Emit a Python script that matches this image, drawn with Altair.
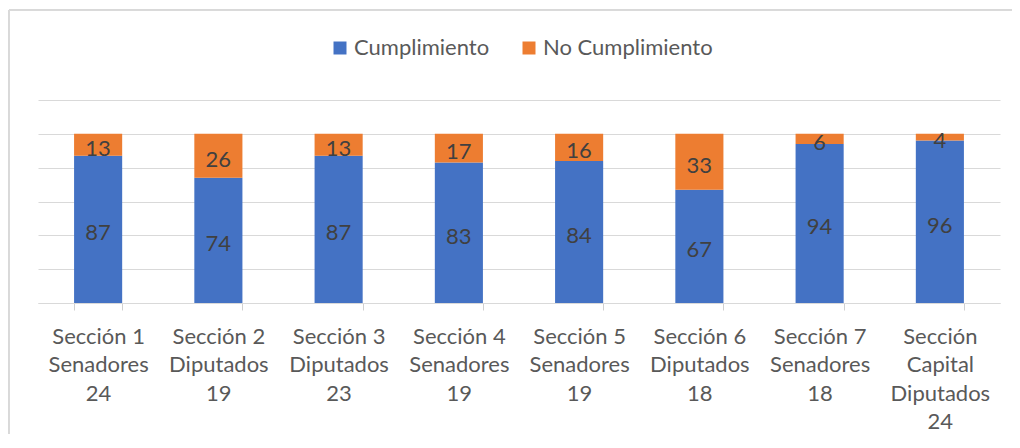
import altair as alt
import pandas as pd

categories = [
    "Sección 1|Senadores|24",
    "Sección 2|Diputados|19",
    "Sección 3|Diputados|23",
    "Sección 4|Senadores|19",
    "Sección 5|Senadores|19",
    "Sección 6|Diputados|18",
    "Sección 7|Senadores|18",
    "Sección|Capital|Diputados|24",
]
series = ["Cumplimiento", "No Cumplimiento"]
cumplimiento = [87, 74, 87, 83, 84, 67, 94, 96]
no_cumplimiento = [13, 26, 13, 17, 16, 33, 6, 4]
colors = ["#4472C4", "#ED7D31"]

rows = []
for c, a, b in zip(categories, cumplimiento, no_cumplimiento):
    rows.append({"cat": c, "serie": series[0], "val": a, "ord": 0})
    rows.append({"cat": c, "serie": series[1], "val": b, "ord": 1})
df = pd.DataFrame(rows)

FONT = "Lato"

xenc = alt.X(
    "cat:N",
    sort=categories,
    title=None,
    scale=alt.Scale(paddingInner=0.6, paddingOuter=0.3),
    axis=alt.Axis(
        labelExpr="split(datum.label, '|')",
        labelAngle=0,
        labelFont=FONT,
        labelFontSize=22,
        labelColor="#595959",
        labelLineHeight=28.5,
        labelBaseline="top",
        labelPadding=16,
        domainColor="#D9D9D9",
        tickColor="#D0D0D0",
        tickSize=7,
        tickWidth=1,
        tickBand="extent",
        grid=False,
    ),
)

yscale = alt.Scale(domain=[0, 120], nice=False)
yaxis = alt.Axis(
    values=[0, 20, 40, 60, 80, 100, 120],
    labels=False,
    ticks=False,
    domain=False,
    grid=True,
    gridColor="#D9D9D9",
    gridWidth=1,
    title=None,
)

base = alt.Chart(df)

bars = base.mark_bar().encode(
    x=xenc,
    y=alt.Y("val:Q", stack="zero", title=None, scale=yscale, axis=yaxis),
    color=alt.Color(
        "serie:N",
        scale=alt.Scale(domain=series, range=colors),
        legend=alt.Legend(
            title=None,
            orient="none",
            legendX=291,
            legendY=-63,
            direction="horizontal",
            symbolType="square",
            symbolSize=169,
            symbolStrokeWidth=0,
            labelFont=FONT,
            labelFontSize=22,
            labelColor="#595959",
            labelOffset=3,
            labelLimit=400,
            columnPadding=28,
            padding=0,
        ),
    ),
    order=alt.Order("ord:Q"),
)

labels = (
    base.transform_stack(
        stack="val", groupby=["cat"], as_=["y0", "y1"], sort=[alt.SortField("ord")]
    )
    .transform_calculate(mid="(datum.y0 + datum.y1) / 2")
    .mark_text(font=FONT, fontSize=22, color="#404040", baseline="middle", dy=4)
    .encode(
        x=alt.X("cat:N", sort=categories),
        y=alt.Y("mid:Q", title=None, scale=yscale, axis=yaxis),
        text=alt.Text("val:Q"),
    )
)

border_left = alt.Chart(df).mark_rule(color="#D9D9D9", strokeWidth=1).encode(
    x=alt.value(-29), y=alt.value(-90), y2=alt.value(400)
)
border_top = alt.Chart(df).mark_rule(color="#D9D9D9", strokeWidth=1).encode(
    x=alt.value(-29), x2=alt.value(974), y=alt.value(-90)
)

chart = (
    alt.layer(bars, labels, border_left, border_top)
    .properties(
        width=962,
        height=203,
        autosize=alt.AutoSizeParams(type="none"),
        padding={"left": 30, "top": 92, "right": 12, "bottom": 131},
    )
    .configure_view(stroke=None)
)

chart.save("out.html", embed_options={"renderer": "svg", "actions": False})
